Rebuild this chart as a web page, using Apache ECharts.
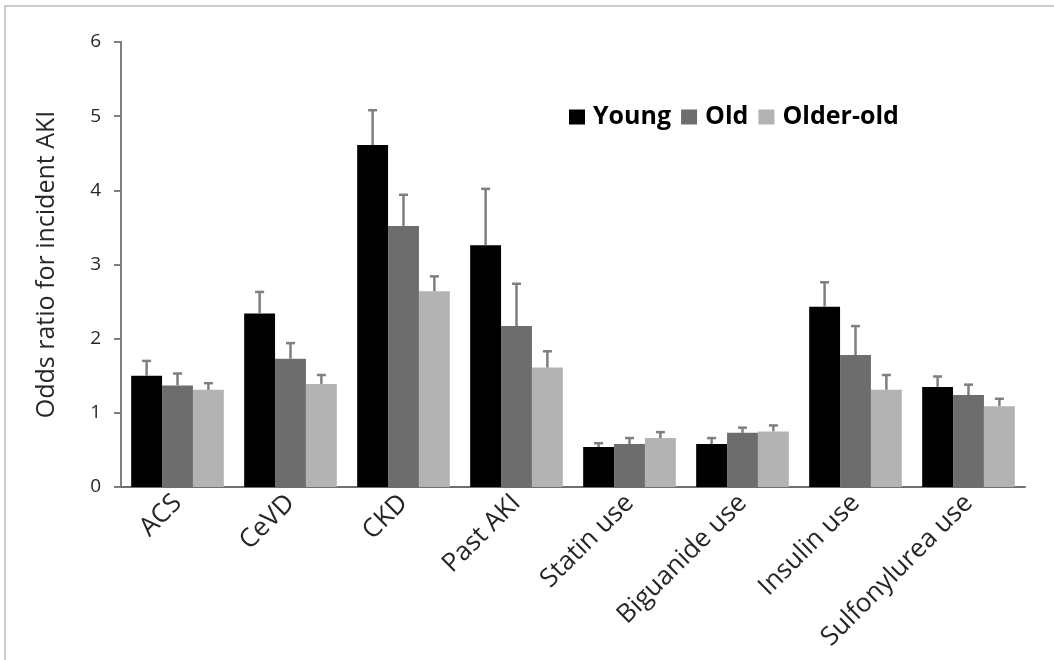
<!DOCTYPE html>
<html>
<head>
<meta charset="utf-8">
<script src="https://cdn.jsdelivr.net/npm/echarts@6/dist/echarts.min.js"></script>
<style>
html,body{margin:0;padding:0;background:#fff;}
#chart{width:1054px;height:660px;}
</style>
</head>
<body>
<div id="chart"></div>
<script>
var categories = ['ACS', 'CeVD', 'CKD', 'Past AKI', 'Statin use', 'Biguanide use', 'Insulin use', 'Sulfonylurea use'];
var seriesNames = ['Young', 'Old', 'Older-old'];
var young = [1.50, 2.34, 4.61, 3.26, 0.54, 0.58, 2.43, 1.35];
var old = [1.37, 1.73, 3.52, 2.17, 0.58, 0.73, 1.78, 1.24];
var olderOld = [1.31, 1.39, 2.64, 1.61, 0.66, 0.75, 1.31, 1.09];
var youngUpper = [1.70, 2.63, 5.08, 4.02, 0.59, 0.66, 2.76, 1.49];
var oldUpper = [1.53, 1.94, 3.94, 2.74, 0.66, 0.80, 2.17, 1.38];
var olderOldUpper = [1.40, 1.51, 2.84, 1.83, 0.74, 0.83, 1.51, 1.19];
var yTicks = [0, 1, 2, 3, 4, 5, 6];

var colors = ['#000000', '#6d6d6d', '#b3b3b3'];
var values = [young, old, olderOld];
var uppers = [youngUpper, oldUpper, olderOldUpper];
var catGap = 0.18;
var FONT = '"Open Sans", sans-serif';

var chart = echarts.init(document.getElementById('chart'));

function errorSeries(k) {
  var data = categories.map(function (c, i) { return [i, values[k][i], uppers[k][i]]; });
  return {
    type: 'custom',
    name: seriesNames[k] + ' err',
    silent: true,
    z: 5,
    data: data,
    renderItem: function (params, api) {
      var i = api.value(0);
      var base = api.coord([i, api.value(1)]);
      var top = api.coord([i, api.value(2)]);
      var band = api.size([1, 0])[0];
      var bw = band * (1 - catGap) / 3;
      var x = base[0] + (k - 1) * bw;
      var cap = 4.5;
      var st = { stroke: '#7f7f7f', lineWidth: 2.5 };
      return {
        type: 'group',
        children: [
          { type: 'line', shape: { x1: x, y1: base[1], x2: x, y2: top[1] }, style: st },
          { type: 'line', shape: { x1: x - cap, y1: top[1], x2: x + cap, y2: top[1] }, style: st }
        ]
      };
    }
  };
}

var series = [];
for (var k = 0; k < 3; k++) {
  series.push({
    type: 'bar',
    name: seriesNames[k],
    data: values[k],
    barGap: '0%',
    barCategoryGap: (catGap * 100) + '%',
    itemStyle: { color: colors[k] },
    z: 2
  });
}
for (var k2 = 0; k2 < 3; k2++) series.push(errorSeries(k2));

chart.setOption({
  animation: false,
  backgroundColor: '#ffffff',
  graphic: [{
    type: 'rect',
    shape: { x: 5, y: 6, width: 1200, height: 800 },
    style: { fill: 'none', stroke: '#cccccc', lineWidth: 2 },
    silent: true
  }],
  legend: {
    data: seriesNames,
    left: 564,
    top: 97,
    itemWidth: 16,
    itemHeight: 15,
    itemGap: 10,
    icon: 'rect',
    textStyle: { fontFamily: FONT, fontSize: 25, fontWeight: 'bold', color: '#000', lineHeight: 30, padding: [0, 0, 0, 3] }
  },
  grid: { left: 121, right: 29, top: 42, bottom: 173, containLabel: false },
  xAxis: {
    type: 'category',
    data: categories,
    axisLine: { lineStyle: { color: '#6f6f6f', width: 2 } },
    axisTick: { show: false },
    axisLabel: { rotate: 45, margin: 12, interval: 0, fontFamily: FONT, fontSize: 26, color: '#262626' }
  },
  yAxis: {
    type: 'value',
    min: yTicks[0],
    max: yTicks[yTicks.length - 1],
    interval: 1,
    name: 'Odds ratio for incident AKI',
    nameLocation: 'middle',
    nameGap: 62,
    nameTextStyle: { fontFamily: FONT, fontSize: 25, color: '#262626' },
    splitLine: { show: false },
    axisLine: { show: true, lineStyle: { color: '#7f7f7f', width: 2 } },
    axisTick: { show: true, length: 7, lineStyle: { color: '#7f7f7f', width: 2 } },
    axisLabel: { margin: 20, fontFamily: FONT, fontSize: 19, color: '#262626' }
  },
  series: series
});
</script>
</body>
</html>
